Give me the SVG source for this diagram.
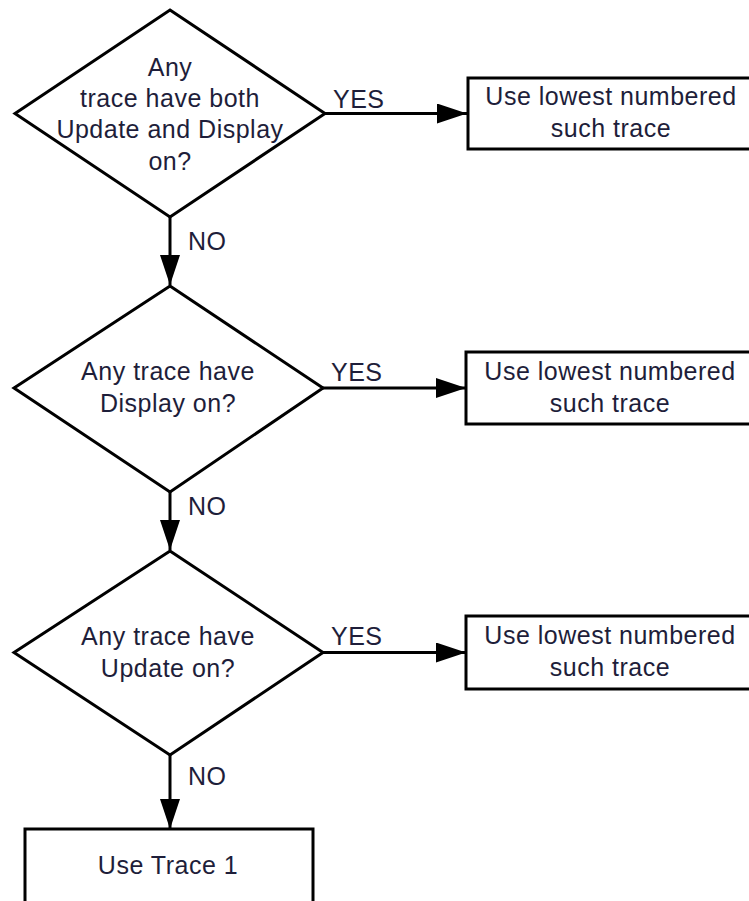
<svg xmlns="http://www.w3.org/2000/svg" width="749" height="901" viewBox="0 0 749 901">
<style>
.shape{fill:#fff;stroke:#000;stroke-width:3;stroke-linejoin:miter}
.conn{fill:none;stroke:#000;stroke-width:3}
text{font-family:"Liberation Sans",Arial,sans-serif;font-size:25px;fill:#1e1e3a;letter-spacing:0.5px}
.c{text-anchor:middle}
</style>
<defs>
<marker id="arr" markerUnits="userSpaceOnUse" markerWidth="32" markerHeight="22" refX="30" refY="10" orient="auto">
<path d="M0,0 L30,10 L0,20 Z" fill="#000"/>
</marker>
</defs>
<rect width="749" height="901" fill="#fff"/>
<g id="connectors">
<path class="conn" d="M170,217 V285" marker-end="url(#arr)"/>
<path class="conn" d="M325,113.5 H467" marker-end="url(#arr)"/>
<path class="conn" d="M170,492 V550" marker-end="url(#arr)"/>
<path class="conn" d="M323,388 H466" marker-end="url(#arr)"/>
<path class="conn" d="M170,755 V829" marker-end="url(#arr)"/>
<path class="conn" d="M323,652.5 H466" marker-end="url(#arr)"/>
<text x="333" y="108">YES</text>
<text x="188" y="250">NO</text>
<text x="331" y="381">YES</text>
<text x="188" y="515">NO</text>
<text x="331" y="645">YES</text>
<text x="188" y="785">NO</text>
</g>
<g id="d1">
<polygon class="shape" points="170,10 325,113.5 170,217 15,113.5"/>
<text class="c" x="170" y="76">Any</text>
<text class="c" x="170" y="107">trace have both</text>
<text class="c" x="170" y="138">Update and Display</text>
<text class="c" x="170" y="170">on?</text>
</g>
<g id="r1">
<rect class="shape" x="468" y="78" width="300" height="71"/>
<text class="c" x="611" y="105">Use lowest numbered</text>
<text class="c" x="611" y="137">such trace</text>
</g>
<g id="d2">
<polygon class="shape" points="170,286 323,388 170,492 14,388"/>
<text class="c" x="168" y="380">Any trace have</text>
<text class="c" x="168" y="412">Display on?</text>
</g>
<g id="r2">
<rect class="shape" x="466" y="352" width="300" height="72"/>
<text class="c" x="610" y="380">Use lowest numbered</text>
<text class="c" x="610" y="412">such trace</text>
</g>
<g id="d3">
<polygon class="shape" points="170,551 323,652.5 170,755 14,652.5"/>
<text class="c" x="168" y="645">Any trace have</text>
<text class="c" x="168" y="677">Update on?</text>
</g>
<g id="r3">
<rect class="shape" x="466" y="616" width="300" height="73"/>
<text class="c" x="610" y="644">Use lowest numbered</text>
<text class="c" x="610" y="676">such trace</text>
</g>
<g id="r4">
<rect class="shape" x="25" y="829" width="288" height="90"/>
<text class="c" x="168" y="874">Use Trace 1</text>
</g>
</svg>
